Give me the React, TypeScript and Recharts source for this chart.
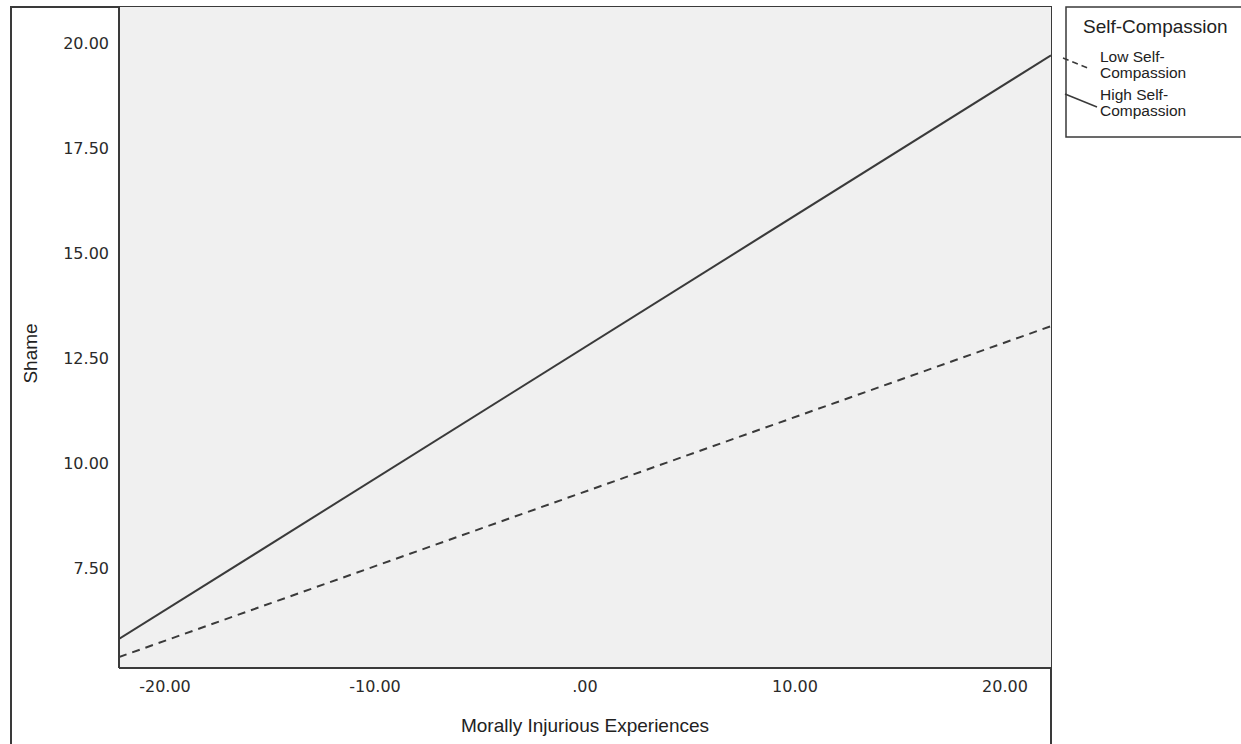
import { LineChart, Line, XAxis, YAxis, CartesianGrid, Legend } from 'recharts';

// values
const experiences = [-22.19, 22.19];
const lowCompassion = [5.38, 13.26];
const highCompassion = [5.81, 19.71];
const xTicks = [-20, -10, 0, 10, 20];
const yTicks = [7.5, 10, 12.5, 15, 17.5, 20];
const seriesNames = ['Low Self-Compassion', 'High Self-Compassion'];

const data = experiences.map((x, i) => ({
  x,
  low: lowCompassion[i],
  high: highCompassion[i],
}));

const fmt = (v: number) => (v === 0 ? '.00' : v.toFixed(2));

const ink = '#3a3a3a';
const tickStyle = { fontFamily: 'DejaVu Sans', fontSize: 16, fill: '#2a2a2a' };
const titleFont = 'Liberation Sans, Arial, sans-serif';

// SPSS-style legend: boxed, slanted line samples, wrapped labels
function renderLegend(props: any) {
  const items = [...(props.payload || [])].sort(
    (a: any, b: any) => seriesNames.indexOf(a.value) - seriesNames.indexOf(b.value)
  );
  const symbols = [
    { x1: 3, y1: 58, x2: 30, y2: 69 },
    { x1: 5, y1: 94, x2: 37, y2: 107 },
  ];
  return (
    <svg width={190} height={140} style={{ display: 'block', overflow: 'visible' }}>
      <rect x={6} y={7} width={200} height={130} fill="#fff" stroke={ink} strokeWidth={1.5} />
      <text x={23} y={33} fontFamily={titleFont} fontSize={19} fill="#222">Self-Compassion</text>
      {items.map((it: any, i: number) => {
        const s = symbols[i];
        const base = i === 0 ? 62 : 100;
        const [first, second] = String(it.value).split(/(?<=Self-)/);
        return (
          <g key={it.value}>
            <line x1={s.x1} y1={s.y1} x2={s.x2} y2={s.y2} stroke={ink} strokeWidth={1.5}
              strokeDasharray={it.payload?.strokeDasharray ? '6 4' : undefined} />
            <text fontFamily={titleFont} fontSize={15.5} fill="#222">
              <tspan x={40} y={base}>{first}</tspan>
              <tspan x={40} y={base + 16}>{second}</tspan>
            </text>
          </g>
        );
      })}
    </svg>
  );
}

function ShameLabel(props: any) {
  const vb = props.viewBox || { x: 0, y: 0, height: 0 };
  const cx = 30;
  const cy = vb.y + vb.height / 2 + 16;
  return (
    <text x={cx} y={cy} transform={`rotate(-90, ${cx}, ${cy})`} textAnchor="middle" dy="0.355em"
      fontFamily={titleFont} fontSize={19} fill="#222">
      Shame
    </text>
  );
}

export default function App() {
  return (
    <div style={{ position: 'absolute', left: 0, top: 0, width: 1241, height: 744, overflow: 'hidden', background: '#fff' }}>
      {/* outer chart frame; its top and right edges also close the plot area */}
      <div style={{ position: 'absolute', left: 10, top: 6, width: 1042, height: 800, boxSizing: 'border-box', border: `2px solid ${ink}` }} />
      <LineChart width={1241} height={744} data={data} margin={{ top: 7, right: 190, bottom: 0, left: 0 }}>
        <CartesianGrid horizontal={false} vertical={false} fill="#f0f0f0" />
        <XAxis
          dataKey="x"
          type="number"
          domain={[-22.19, 22.19]}
          ticks={xTicks}
          tickFormatter={fmt}
          tickLine={false}
          tickSize={0}
          tickMargin={13}
          height={76}
          axisLine={{ stroke: ink, strokeWidth: 2 }}
          tick={tickStyle}
          allowDataOverflow
          label={{ value: 'Morally Injurious Experiences', position: 'insideBottom', offset: 12, style: { fontFamily: titleFont, fontSize: 19, fill: '#222' } }}
        />
        <YAxis
          type="number"
          domain={[5.12, 20.86]}
          ticks={yTicks}
          tickFormatter={fmt}
          tickLine={false}
          tickSize={0}
          tickMargin={10}
          width={119}
          axisLine={{ stroke: ink, strokeWidth: 2 }}
          tick={tickStyle}
          allowDataOverflow
          label={<ShameLabel />}
        />
        <Legend
          layout="horizontal"
          verticalAlign="middle"
          align="center"
          content={renderLegend}
          wrapperStyle={{ left: 1060, top: 0, width: 190, height: 140 }}
        />
        <Line dataKey="low" name={seriesNames[0]} stroke={ink} strokeWidth={2} strokeDasharray="8 6" dot={false} isAnimationActive={false} />
        <Line dataKey="high" name={seriesNames[1]} stroke={ink} strokeWidth={2} dot={false} isAnimationActive={false} />
      </LineChart>
    </div>
  );
}
